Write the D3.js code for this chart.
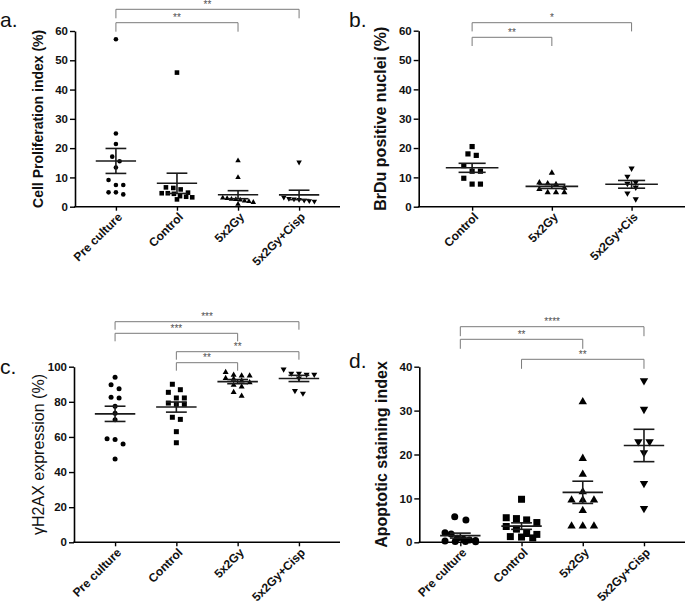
<!DOCTYPE html>
<html>
<head>
<meta charset="utf-8">
<script src="https://cdn.jsdelivr.net/npm/d3@7"></script>
<style>
  body { margin: 0; background: #fff; }
  svg { display: block; font-family: "Liberation Sans", Arial, sans-serif; }
</style>
</head>
<body>
<div id="chart"></div>
<script>
// categories
var catsA = ["Pre culture", "Control", "5x2Gy", "5x2Gy+Cisp"];
var catsB = ["Control", "5x2Gy", "5x2Gy+Cis"];

// a. Cell proliferation index (%)
var prolifPre  = [57.2, 25.0, 21.4, 17.1, 15.5, 13.4, 9.1, 7.4, 7.4, 4.9, 4.9, 4.2];
var prolifCtrl = [45.8, 6.6, 6.4, 5.9, 4.8, 4.6, 4.6, 4.4, 3.6, 3.4, 3.2, 2.5];
var prolifGy   = [15.7, 10.0, 3.0, 2.8, 2.6, 2.5, 2.3, 2.0, 1.8, 1.5, 0.9];
var prolifCisp = [15.2, 3.2, 2.8, 2.6, 2.4, 2.2, 2.0, 1.8];

// b. BrDu positive nuclei (%)
var brduCtrl = [20.5, 18.0, 17.5, 14.0, 12.1, 12.1, 9.7, 7.7, 7.7];
var brduGy   = [11.5, 8.2, 7.9, 7.6, 6.4, 6.0, 4.9, 4.9, 4.9];
var brduCis  = [13.1, 10.3, 8.3, 7.9, 6.6, 4.6, 2.6];

// c. gH2AX expression (%)
var h2axPre  = [94.0, 89.7, 87.5, 82.6, 82.2, 77.5, 73.5, 69.8, 59.0, 58.6, 56.0, 47.5];
var h2axCtrl = [90.0, 86.9, 85.4, 82.2, 82.2, 79.3, 78.6, 78.6, 71.2, 70.0, 63.0, 56.7];
var h2axGy   = [96.8, 95.3, 94.9, 94.9, 93.4, 93.0, 92.0, 91.0, 89.5, 88.6, 85.4, 83.3];
var h2axCisp = [98.5, 96.2, 96.2, 95.5, 95.5, 93.5, 86.3, 84.8];

// d. Apoptotic staining index
var apoPre  = [5.8, 5.1, 2.2, 1.9, 0.9, 0.7, 0.5, 0.4, 0.3, 0.2, 0.2, 0.1];
var apoCtrl = [9.8, 5.6, 5.4, 5.1, 4.5, 3.6, 3.0, 2.0, 1.8, 1.3, 1.2, 1.0];
var apoGy   = [32.0, 19.1, 15.5, 11.5, 9.6, 9.6, 9.6, 7.2, 3.7, 3.7, 3.7];
var apoCisp = [36.8, 30.3, 22.9, 22.9, 20.4, 13.4, 7.7];

// tick values
var ticks60 = [0, 10, 20, 30, 40, 50, 60];
var ticks100 = [0, 20, 40, 60, 80, 100];
var ticks40 = [0, 10, 20, 30, 40];

// significance comparisons
var sigA = [["Pre culture", "5x2Gy+Cisp", "**"], ["Pre culture", "5x2Gy", "**"]];
var sigB = [["Control", "5x2Gy+Cis", "*"], ["Control", "5x2Gy", "**"]];
var sigC = [["Pre culture", "5x2Gy+Cisp", "***"], ["Pre culture", "5x2Gy", "***"],
            ["Control", "5x2Gy+Cisp", "**"], ["Control", "5x2Gy", "**"]];
var sigD = [["Pre culture", "5x2Gy+Cisp", "****"], ["Pre culture", "5x2Gy", "**"],
            ["Control", "5x2Gy+Cisp", "**"]];

var shapes = ["circle", "square", "up", "down"];

var width = 685, height = 604;
var svg = d3.select("#chart").append("svg")
    .attr("width", width)
    .attr("height", height);

// panel layouts
var panels = [
  {label: "a.", lx: 0, ly: 27, cats: catsA, groups: [prolifPre, prolifCtrl, prolifGy, prolifCisp],
   shapes: shapes, sig: sigA, sigY: [9.3, 22.7], leg: 9,
   ax: 75, xEnd: 340, y0: 206.7, yTop: 31, max: 60, ticks: ticks60,
   title: "Cell Proliferation index (%)", tx: 38, tSize: 14, tWeight: "bold", ms: 4.6},
  {label: "b.", lx: 349, ly: 27, cats: catsB, groups: [brduCtrl, brduGy, brduCis],
   shapes: ["square", "up", "down"], sig: sigB, sigY: [22.7, 37.3], leg: 8.7,
   ax: 418.7, xEnd: 685, y0: 206.7, yTop: 30.7, max: 60, ticks: ticks60,
   title: "BrDu positive nuclei (%)", tx: 380, tSize: 16, tWeight: "bold", ms: 5.2},
  {label: "c.", lx: 0, ly: 374, cats: catsA, groups: [h2axPre, h2axCtrl, h2axGy, h2axCisp],
   shapes: shapes, sig: sigC, sigY: [321.7, 333.3, 351.7, 362.7], leg: 8,
   ax: 74, xEnd: 340, y0: 542.3, yTop: 366.7, max: 100, ticks: ticks100,
   title: "\u03b3H2AX expression (%)", tx: 38, tSize: 16, tWeight: "normal", ms: 5},
  {label: "d.", lx: 349, ly: 368, cats: catsA, groups: [apoPre, apoCtrl, apoGy, apoCisp],
   shapes: shapes, sig: sigD, sigY: [326.7, 339.3, 359.3], leg: 9.5,
   ax: 419.3, xEnd: 685, y0: 542.3, yTop: 366.7, max: 40, ticks: ticks40,
   title: "Apoptotic staining index", tx: 381, tSize: 16, tWeight: "bold", ms: 7}
];

// column scatter like prism: points whose y are close share a row and spread sideways
function swarm(values, y, ms, maxW) {
    var pts = values.map(function (v) { return {v: v, y: y(v)}; })
        .sort(function (a, b) { return b.v - a.v; });
    var rows = [], cur = null;
    pts.forEach(function (p) {
        if (cur && p.y - cur[0].y < ms * 1.15) cur.push(p);
        else { cur = [p]; rows.push(cur); }
    });
    rows.forEach(function (r) {
        var n = r.length;
        var sp = n > 1 ? Math.min(ms * 1.6, maxW / (n - 1)) : 0;
        r.forEach(function (p, k) { p.x = (k - (n - 1) / 2) * sp; });
    });
    return pts;
}

function symbolPath(shape, ms) {
    if (shape == "circle") return d3.symbol(d3.symbolCircle, Math.PI * ms * ms / 4)();
    if (shape == "square") return d3.symbol(d3.symbolSquare, ms * ms)();
    var s = ms * 1.2;
    return d3.symbol(d3.symbolTriangle, Math.sqrt(3) / 4 * s * s)();
}

panels.forEach(function (p) {
    var g = svg.append("g");

    var y = d3.scaleLinear().domain([0, p.max]).range([p.y0, p.yTop]);
    var x = d3.scalePoint().domain(p.cats).range([p.ax, p.xEnd]).padding(0.67);
    var step = x.step();

    // y axis
    var yAxis = g.append("g")
        .attr("transform", "translate(" + p.ax + ",0)")
        .call(d3.axisLeft(y).tickValues(p.ticks).tickSize(5).tickPadding(2).tickSizeOuter(0));
    yAxis.select(".domain").attr("stroke", "#000").attr("stroke-width", 1.6);
    yAxis.selectAll(".tick line").attr("stroke", "#000").attr("stroke-width", 1.4);
    yAxis.selectAll(".tick text")
        .attr("fill", "#111")
        .style("font-size", "11.5px")
        .style("font-weight", "bold")
        .style("font-family", "Liberation Sans, Arial, sans-serif");

    // x axis
    var xAxis = g.append("g")
        .attr("transform", "translate(0," + p.y0 + ")")
        .call(d3.axisBottom(x).tickSize(4).tickSizeOuter(0).tickFormat(""));
    xAxis.select(".domain").attr("stroke", "#000").attr("stroke-width", 1.6)
        .attr("d", "M" + (p.ax - 0.8) + ",0H" + p.xEnd);
    xAxis.selectAll(".tick line").attr("stroke", "#000").attr("stroke-width", 1.4);

    g.append("g").selectAll("text")
        .data(p.cats)
        .enter()
        .append("text")
        .attr("transform", function (d) { return "translate(" + (x(d) + 4) + "," + (p.y0 + 8) + ") rotate(-45)"; })
        .attr("text-anchor", "end")
        .attr("dy", "0.35em")
        .style("font-size", "12px")
        .style("font-weight", "bold")
        .attr("fill", "#111")
        .text(function (d) { return d; });

    // y title
    g.append("text")
        .attr("transform", "translate(" + p.tx + "," + ((p.y0 + p.yTop) / 2) + ") rotate(-90)")
        .attr("text-anchor", "middle")
        .attr("dy", "0.35em")
        .style("font-size", p.tSize + "px")
        .style("font-weight", p.tWeight)
        .attr("fill", "#111")
        .text(p.title);

    // panel label
    g.append("text")
        .attr("x", p.lx)
        .attr("y", p.ly)
        .style("font-size", "21px")
        .attr("fill", "#111")
        .text(p.label);

    // points + mean/SEM
    p.groups.forEach(function (vals, i) {
        var cx = x(p.cats[i]);
        var pts = swarm(vals, y, p.ms, step * 0.5);
        var shape = p.shapes[i];
        g.append("g").selectAll("path")
            .data(pts)
            .enter()
            .append("path")
            .attr("d", symbolPath(shape, p.ms))
            .attr("transform", function (d) {
                return "translate(" + (cx + d.x) + "," + d.y + ")" + (shape == "down" ? " rotate(180)" : "");
            })
            .attr("fill", "#000");

        var m = d3.mean(vals);
        var sem = d3.deviation(vals) / Math.sqrt(vals.length);
        var hw = step * 0.33, cw = step * 0.17;
        var eb = g.append("g").attr("stroke", "#1a1a1a").attr("stroke-width", 1.6);
        eb.append("line").attr("x1", cx - hw).attr("x2", cx + hw).attr("y1", y(m)).attr("y2", y(m));
        eb.append("line").attr("x1", cx).attr("x2", cx).attr("y1", y(m + sem)).attr("y2", y(m - sem));
        eb.append("line").attr("x1", cx - cw).attr("x2", cx + cw).attr("y1", y(m + sem)).attr("y2", y(m + sem));
        eb.append("line").attr("x1", cx - cw).attr("x2", cx + cw).attr("y1", y(m - sem)).attr("y2", y(m - sem));
    });

    // significance brackets
    p.sig.forEach(function (s, i) {
        var x1 = x(s[0]), x2 = x(s[1]), by = p.sigY[i];
        g.append("path")
            .attr("d", "M" + x1 + "," + (by + p.leg) + "V" + by + "H" + x2 + "V" + (by + p.leg))
            .attr("fill", "none")
            .attr("stroke", "#7a7a7a")
            .attr("stroke-width", 1);
        g.append("text")
            .attr("x", (x1 + x2) / 2)
            .attr("y", by - 1.5)
            .attr("text-anchor", "middle")
            .style("font-size", "10px")
            .attr("fill", "#505050")
            .text(s[2]);
    });
});
</script>
</body>
</html>
